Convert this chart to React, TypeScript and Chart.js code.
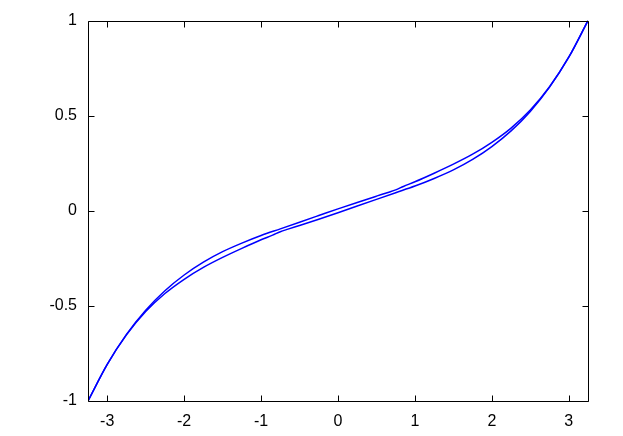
import React, { useEffect, useRef } from "react";
import { Chart, registerables } from "chart.js";

Chart.register(...registerables);

const xValuesA = [-3.25, -3, -2.75, -2.5, -2.25, -2, -1.75, -1.5, -1.25, -1, -0.75, -0.5, -0.25, 0, 0.25, 0.5, 0.65, 0.75, 0.85, 1, 1.25, 1.5, 1.75, 2, 2.25, 2.5, 2.75, 3, 3.25];
const xValuesB = [-3.25, -3, -2.75, -2.5, -2.25, -2, -1.75, -1.5, -1.25, -1, -0.85, -0.75, -0.65, -0.5, -0.25, 0, 0.25, 0.5, 0.75, 1, 1.25, 1.5, 1.75, 2, 2.25, 2.5, 2.75, 3, 3.25];
const seriesA = [-1, -0.8075, -0.65, -0.5225, -0.42, -0.3375, -0.27, -0.215, -0.17, -0.13, -0.095, -0.06, -0.025, 0.01, 0.044, 0.077, 0.0965, 0.11, 0.128, 0.1525, 0.1975, 0.245, 0.2975, 0.36, 0.435, 0.53, 0.6525, 0.8075, 1];
const seriesB = [-1, -0.8075, -0.6525, -0.53, -0.435, -0.36, -0.2975, -0.245, -0.1975, -0.1525, -0.128, -0.11, -0.0965, -0.077, -0.044, -0.01, 0.025, 0.06, 0.095, 0.13, 0.17, 0.215, 0.27, 0.3375, 0.42, 0.5225, 0.65, 0.8075, 1];
const xTicks = [-3, -2, -1, 0, 1, 2, 3];
const yTicks = [-1, -0.5, 0, 0.5, 1];

const boxPlugin = {
  id: "gnuBox",
  afterDraw(chart: any) {
    const { ctx, chartArea } = chart;
    const { left, right, top, bottom } = chartArea;
    const xs = chart.scales.x;
    const ys = chart.scales.y;
    ctx.save();
    ctx.strokeStyle = "#000";
    ctx.lineWidth = 1;
    ctx.beginPath();
    const L = Math.round(left) + 0.5, R = Math.round(right) + 0.5, T = Math.round(top) + 0.5, B = Math.round(bottom) + 0.5;
    ctx.rect(L, T, R - L, B - T);
    const tl = 6;
    xTicks.forEach((v) => {
      const px = Math.round(xs.getPixelForValue(v)) + 0.5;
      ctx.moveTo(px, B); ctx.lineTo(px, B - tl);
      ctx.moveTo(px, T); ctx.lineTo(px, T + tl);
    });
    yTicks.forEach((v) => {
      const py = Math.round(ys.getPixelForValue(v)) + 0.5;
      ctx.moveTo(L, py); ctx.lineTo(L + tl, py);
      ctx.moveTo(R, py); ctx.lineTo(R - tl, py);
    });
    ctx.stroke();
    ctx.restore();
  },
};

export default function App() {
  const ref = useRef<HTMLCanvasElement | null>(null);
  useEffect(() => {
    document.body.style.margin = "0";
    const font = { family: "'Liberation Sans', Arial, sans-serif", size: 16 };
    const chart = new Chart(ref.current!, {
      type: "scatter",
      data: {
        datasets: [
          {
            data: xValuesA.map((x, i) => ({ x, y: seriesA[i] })),
            showLine: true,
            borderColor: "#0000ff",
            borderWidth: 1.5,
            pointRadius: 0,
            cubicInterpolationMode: "monotone",
          },
          {
            data: xValuesB.map((x, i) => ({ x, y: seriesB[i] })),
            showLine: true,
            borderColor: "#0000ff",
            borderWidth: 1.5,
            pointRadius: 0,
            cubicInterpolationMode: "monotone",
          },
        ],
      },
      options: {
        animation: false,
        responsive: false,
        maintainAspectRatio: false,
        layout: { padding: { top: 20, right: 35, left: 0, bottom: 0 } },
        plugins: { legend: { display: false }, tooltip: { enabled: false } },
        scales: {
          x: {
            type: "linear",
            min: -3.25,
            max: 3.25,
            grid: { display: false, drawTicks: false },
            border: { display: false },
            afterBuildTicks: (s: any) => { s.ticks = xTicks.map((v) => ({ value: v })); },
            ticks: { font, color: "#000", padding: 11, includeBounds: false, callback: (v: any) => String(v) },
            afterFit: (s: any) => { s.height = 35; },
          },
          y: {
            type: "linear",
            min: -1,
            max: 1,
            grid: { display: false, drawTicks: false },
            border: { display: false },
            afterBuildTicks: (s: any) => { s.ticks = yTicks.map((v) => ({ value: v })); },
            ticks: { font, color: "#000", padding: 11, includeBounds: false, callback: (v: any) => String(v) },
            afterFit: (s: any) => { s.width = 88; },
          },
        },
      },
      plugins: [boxPlugin],
    });
    return () => chart.destroy();
  }, []);
  return (
    <div style={{ position: "absolute", left: 0, top: 0, width: 623, height: 436, background: "#fff" }}>
      <canvas ref={ref} width={623} height={436} style={{ width: 623, height: 436 }} />
    </div>
  );
}
